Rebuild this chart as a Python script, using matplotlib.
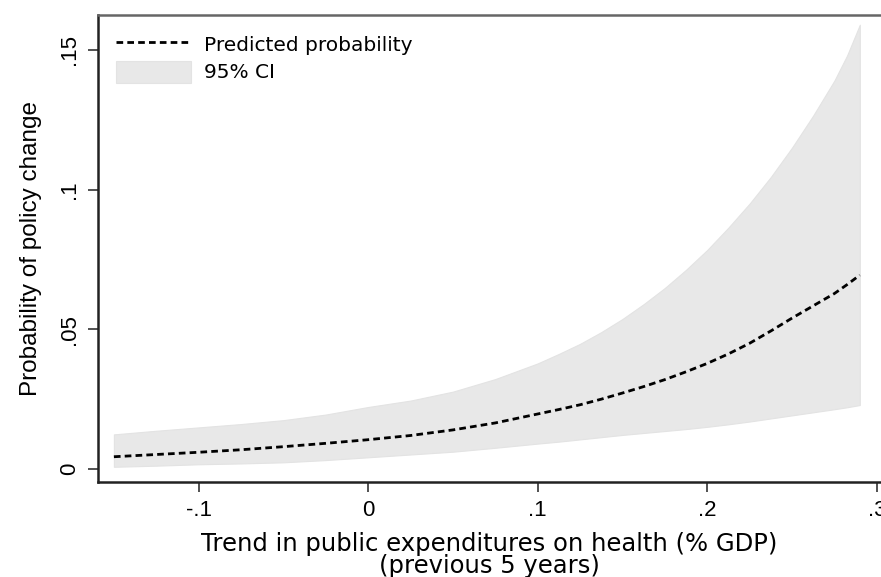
import numpy as np
import matplotlib
matplotlib.use("Agg")
import matplotlib.pyplot as plt

# trend in public health expenditure (% GDP, previous 5 years)
trend = [-0.15, -0.125, -0.1, -0.075, -0.05, -0.025, 0.0, 0.025, 0.05, 0.075,
         0.1, 0.1125, 0.125, 0.1375, 0.15, 0.1625, 0.175, 0.1875, 0.2, 0.2125,
         0.225, 0.2375, 0.25, 0.2625, 0.275, 0.2825, 0.29]
# predicted probability of policy change and its 95% CI
pred = [0.0044, 0.0052, 0.0060, 0.0069, 0.0080, 0.0092, 0.0105, 0.0120, 0.0140, 0.0165,
        0.0197, 0.0213, 0.0230, 0.0250, 0.0272, 0.0295, 0.0320, 0.0348, 0.0378, 0.0412,
        0.0450, 0.0494, 0.0540, 0.0584, 0.0628, 0.0660, 0.0694]
ci_hi = [0.0124, 0.0137, 0.0149, 0.0161, 0.0175, 0.0195, 0.0222, 0.0245, 0.0277, 0.0322,
         0.0378, 0.0412, 0.0448, 0.0490, 0.0537, 0.0590, 0.0648, 0.0713, 0.0784, 0.0864,
         0.0950, 0.1045, 0.1150, 0.1265, 0.1390, 0.1480, 0.1590]
ci_lo = [0.0008, 0.0012, 0.0017, 0.0020, 0.0024, 0.0032, 0.0042, 0.0052, 0.0062, 0.0076,
         0.0091, 0.0098, 0.0106, 0.0114, 0.0122, 0.0129, 0.0136, 0.0143, 0.0151, 0.0160,
         0.0170, 0.0181, 0.0192, 0.0203, 0.0214, 0.0221, 0.0229]

xticks = [-0.1, 0, 0.1, 0.2, 0.3]
xtick_labels = ["-.1", "0", ".1", ".2", ".3"]
yticks = [0, 0.05, 0.1, 0.15]
ytick_labels = ["0", ".05", ".1", ".15"]

fig = plt.figure(figsize=(8.81, 5.77), dpi=100)
ax = fig.add_axes([0.1112, 0.1646, 0.8888, 0.81])

ax.fill_between(trend, ci_lo, ci_hi, color="#e8e8e8", edgecolor="#e3e3e3",
                linewidth=0.8, label="95% CI", zorder=1)
ax.plot(trend, pred, color="black", linestyle=(0, (2.4, 1.5)), linewidth=2.0,
        label="Predicted probability", zorder=2)

ax.set_xlim(-0.1594, 0.3025)
ax.set_ylim(-0.00465, 0.1626)

ax.set_xticks(xticks)
ax.set_xticklabels(xtick_labels, fontsize=16, family="Liberation Sans")
ax.set_yticks(yticks)
ax.set_yticklabels(ytick_labels, fontsize=16, family="Liberation Sans",
                   rotation=90, va="center")
ax.tick_params(axis="both", direction="out", length=7, width=1.2, color="#333333", pad=6)

for side in ("left", "bottom"):
    ax.spines[side].set_linewidth(1.8)
    ax.spines[side].set_color("#222222")
ax.spines["top"].set_linewidth(1.8)
ax.spines["top"].set_color("#666666")
ax.spines["right"].set_visible(False)

ax.set_xlabel("Trend in public expenditures on health (% GDP)\n(previous 5 years)",
              fontsize=17.5, linespacing=0.9, labelpad=8)
ax.set_ylabel("Probability of policy change", fontsize=17.5,
              family="Liberation Sans", labelpad=12)

handles, labels = ax.get_legend_handles_labels()
ax.legend(handles[::-1], labels[::-1], loc="upper left", frameon=False,
          fontsize=14.5, handlelength=3.7, handleheight=1.3, handletextpad=0.65,
          labelspacing=0.3, borderaxespad=0.5)

fig.savefig("out.png", dpi=100)
